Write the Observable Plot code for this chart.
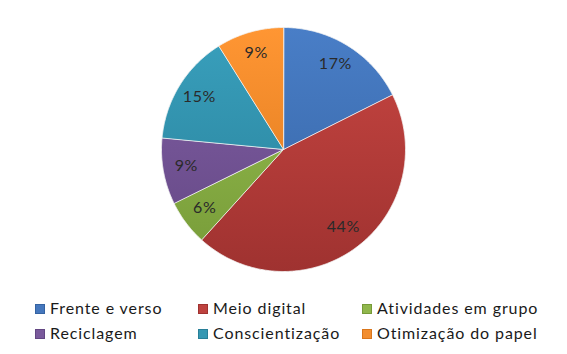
<!DOCTYPE html>
<html>
<head>
<meta charset="utf-8">
<script src="https://cdn.jsdelivr.net/npm/d3@7"></script>
<script src="https://cdn.jsdelivr.net/npm/@observablehq/plot@0.6"></script>
<style>
  html, body { margin: 0; padding: 0; background: #fff; }
  #wrap { position: relative; width: 567px; height: 354px; font-family: Lato, "Open Sans", sans-serif; }
  #chart { position: absolute; left: 0; top: 0; }
  .leg { position: absolute; font-size: 16px; letter-spacing: 0.9px; color: #1a1a1a; line-height: 18px; white-space: nowrap; }
  .sw { position: absolute; width: 8px; height: 8px; top: 5px; left: -15px; }
</style>
</head>
<body>
<div id="wrap"><div id="chart"></div></div>
<script>
const categories = ["Frente e verso", "Meio digital", "Atividades em grupo", "Reciclagem", "Conscientização", "Otimização do papel"];
const values = [17.6, 44.1, 6.0, 8.8, 14.6, 8.9];
const labels = ["17%", "44%", "6%", "9%", "15%", "9%"];
const colors = ["#4577bd", "#be423f", "#90b74c", "#7a5a9c", "#3698b3", "#f28e30"];
const darkColors = ["#3563a2", "#9f3230", "#769a38", "#634783", "#287f98", "#d9761c"];

const pie = d3.pie().sort(null).value(d => d.value)(categories.map((c, i) => ({i, cat: c, value: values[i]})));

const pts = [];
pie.forEach(p => {
  const i = p.data.i;
  pts.push({i, x: 0, y: 0});
  const n = Math.max(2, Math.ceil((p.endAngle - p.startAngle) / 0.01));
  for (let k = 0; k <= n; k++) {
    const a = p.startAngle + (p.endAngle - p.startAngle) * k / n;
    pts.push({i, x: Math.sin(a), y: Math.cos(a)});
  }
});
const lab = pie.map(p => {
  const a = (p.startAngle + p.endAngle) / 2;
  return {i: p.data.i, x: 0.81 * Math.sin(a), y: 0.81 * Math.cos(a) + 0.01, t: labels[p.data.i]};
});

const cx = 283, cy = 149, r = 122;
const chart = Plot.plot({
  width: 567, height: 290,
  margin: 0,
  x: {domain: [-1, 1], range: [cx - r, cx + r], axis: null},
  y: {domain: [-1, 1], range: [cy + r, cy - r], axis: null},
  color: {type: "identity"},
  marks: [
    Plot.line(pts, {x: "x", y: "y", z: "i", fill: d => `url(#grad${d.i})`, stroke: "#f4f4f4", strokeWidth: 0.8, curve: "linear-closed", strokeLinejoin: "round"}),
    Plot.text(lab, {x: "x", y: "y", text: "t", fontSize: 16, fill: "#2a2a2a", fontFamily: "Lato, 'Open Sans', sans-serif", style: "letter-spacing: 0.6px"})
  ]
});
const svg = d3.select(chart);
svg.selectAll("text").style("letter-spacing", "0.6px");
const defs = svg.insert("defs", ":first-child");
colors.forEach((c, i) => {
  const g = defs.append("linearGradient").attr("id", "grad" + i)
    .attr("gradientUnits", "userSpaceOnUse").attr("x1", 0).attr("y1", cy - r).attr("x2", 0).attr("y2", cy + r);
  g.append("stop").attr("offset", "0%").attr("stop-color", d3.color(c).brighter(0.15));
  g.append("stop").attr("offset", "100%").attr("stop-color", darkColors[i]);
});
document.getElementById("chart").appendChild(chart);

const wrap = document.getElementById("wrap");
const legPos = [[50, 299], [213, 299], [377, 299], [50, 324], [213, 324], [377, 324]];
categories.forEach((c, i) => {
  const d = document.createElement("div");
  d.className = "leg";
  d.style.left = legPos[i][0] + "px";
  d.style.top = legPos[i][1] + "px";
  d.textContent = c;
  const s = document.createElement("span");
  s.className = "sw";
  s.style.background = colors[i];
  s.style.border = "0.5px solid " + darkColors[i];
  d.appendChild(s);
  wrap.appendChild(d);
});
</script>
</body>
</html>
